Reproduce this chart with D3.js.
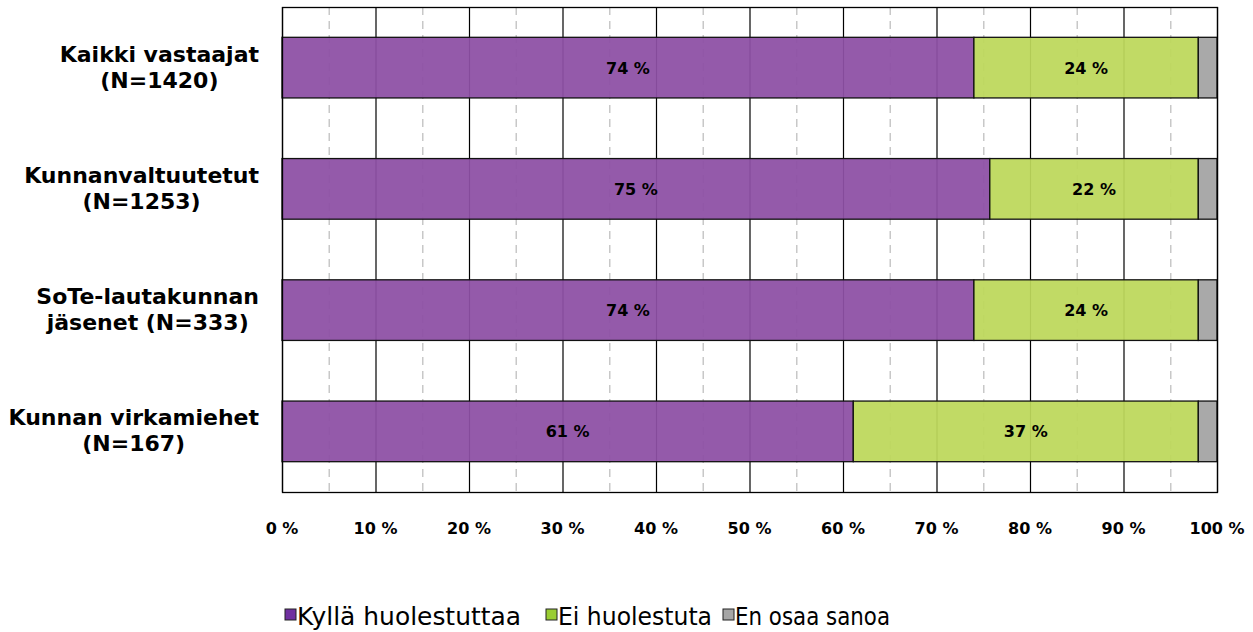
<!DOCTYPE html>
<html lang="fi">
<head>
<meta charset="utf-8">
<title>Huolestuttaako</title>
<script src="https://cdn.jsdelivr.net/npm/d3@7"></script>
<style>
  body { margin: 0; background: #fff; }
  text { font-family: "DejaVu Sans", Verdana, sans-serif; }
</style>
</head>
<body>
<svg width="1253" height="632"></svg>
<script>
var groups = [["Kaikki vastaajat", "(N=1420)"], ["Kunnanvaltuutetut", "(N=1253)"], ["SoTe-lautakunnan", "jäsenet (N=333)"], ["Kunnan virkamiehet", "(N=167)"]];
var seriesNames = ["Kyllä huolestuttaa", "Ei huolestuta", "En osaa sanoa"];
var kylla = [74.0, 75.7, 74.0, 61.1];
var ei = [24.0, 22.3, 24.0, 36.9];
var eos = [2.0, 2.0, 2.0, 2.0];
var kyllaLabels = ["74 %", "75 %", "74 %", "61 %"];
var eiLabels = ["24 %", "22 %", "24 %", "37 %"];
var ticks = [0, 10, 20, 30, 40, 50, 60, 70, 80, 90, 100];

var colors = ["#8d50a5", "#bdd85b", "#a4a4a4"];
var legendColors = ["#7030a0", "#9acd32", "#a6a6a6"];

var svg = d3.select("svg");
var plotL = 282, plotR = 1217, plotT = 7, plotB = 492;

var x = d3.scaleLinear().domain([0, 100]).range([plotL, plotR]);
var y = d3.scaleBand().domain(d3.range(groups.length)).range([plotT, plotB]).paddingInner(0.5).paddingOuter(0.25);

var data = groups.map(function(g, i) {
    return { i: i, vals: [kylla[i], ei[i], eos[i]] };
});

// dashed minor lines
var g = svg.append("g");
g.selectAll(".minor").data(d3.range(5, 100, 10)).enter().append("line")
    .attr("x1", function(d) { return x(d) + 0.5; })
    .attr("x2", function(d) { return x(d) + 0.5; })
    .attr("y1", plotT).attr("y2", plotB)
    .attr("stroke", "#c8c8c8").attr("stroke-width", 1.5)
    .attr("stroke-dasharray", "8,6");

g.selectAll(".major").data(ticks).enter().append("line")
    .attr("x1", function(d) { return x(d) + 0.5; })
    .attr("x2", function(d) { return x(d) + 0.5; })
    .attr("y1", plotT).attr("y2", plotB)
    .attr("stroke", "#000").attr("stroke-width", 1.2);

// bars
data.forEach(function(d) {
    var acc = 0;
    d.vals.forEach(function(v, k) {
        svg.append("rect")
            .attr("x", x(acc))
            .attr("y", y(d.i))
            .attr("width", x(acc + v) - x(acc))
            .attr("height", y.bandwidth())
            .attr("fill", colors[k])
            .attr("fill-opacity", 0.94)
            .attr("stroke", "#111")
            .attr("stroke-width", 1.3);
        acc += v;
    });
    svg.append("text")
        .attr("x", x(d.vals[0] / 2))
        .attr("y", y(d.i) + y.bandwidth() / 2 + 6)
        .attr("text-anchor", "middle")
        .attr("font-size", 16).attr("font-weight", "bold")
        .text(kyllaLabels[d.i]);
    svg.append("text")
        .attr("x", x(d.vals[0] + d.vals[1] / 2))
        .attr("y", y(d.i) + y.bandwidth() / 2 + 6)
        .attr("text-anchor", "middle")
        .attr("font-size", 16).attr("font-weight", "bold")
        .text(eiLabels[d.i]);
});

// frame
svg.append("rect")
    .attr("x", plotL + 0.5).attr("y", plotT + 0.5)
    .attr("width", plotR - plotL).attr("height", plotB - plotT)
    .attr("fill", "none").attr("stroke", "#000").attr("stroke-width", 1.3);

// x tick labels
svg.selectAll(".tick-label").data(ticks).enter().append("text")
    .attr("x", function(d) { return x(d); })
    .attr("y", 534)
    .attr("text-anchor", "middle")
    .attr("font-size", 16).attr("font-weight", "bold")
    .text(function(d) { return d + " %"; });

// category labels: lines centred within a block whose right edge sits at 259
groups.forEach(function(lines, i) {
    var cy = y(i) + y.bandwidth() / 2;
    var t = svg.append("text")
        .attr("text-anchor", "middle")
        .attr("font-size", 22).attr("font-weight", "bold");
    var spans = lines.map(function(s, j) {
        return t.append("tspan")
            .attr("y", cy - 6 + j * 26)
            .text(s);
    });
    var w = d3.max(spans, function(sp) { return sp.node().getComputedTextLength(); });
    spans.forEach(function(sp) { sp.attr("x", 259 - w / 2); });
});

// legend
var legendX = [285, 546, 723];
var legendW = [224, 154, 155];
seriesNames.forEach(function(s, k) {
    svg.append("rect")
        .attr("x", legendX[k]).attr("y", 609)
        .attr("width", 11).attr("height", 11)
        .attr("fill", legendColors[k])
        .attr("stroke", "#222").attr("stroke-width", 1);
    svg.append("text")
        .attr("x", legendX[k] + 12).attr("y", 625)
        .attr("font-size", 25)
        .attr("textLength", legendW[k])
        .attr("lengthAdjust", "spacingAndGlyphs")
        .text(s);
});
</script>
</body>
</html>
